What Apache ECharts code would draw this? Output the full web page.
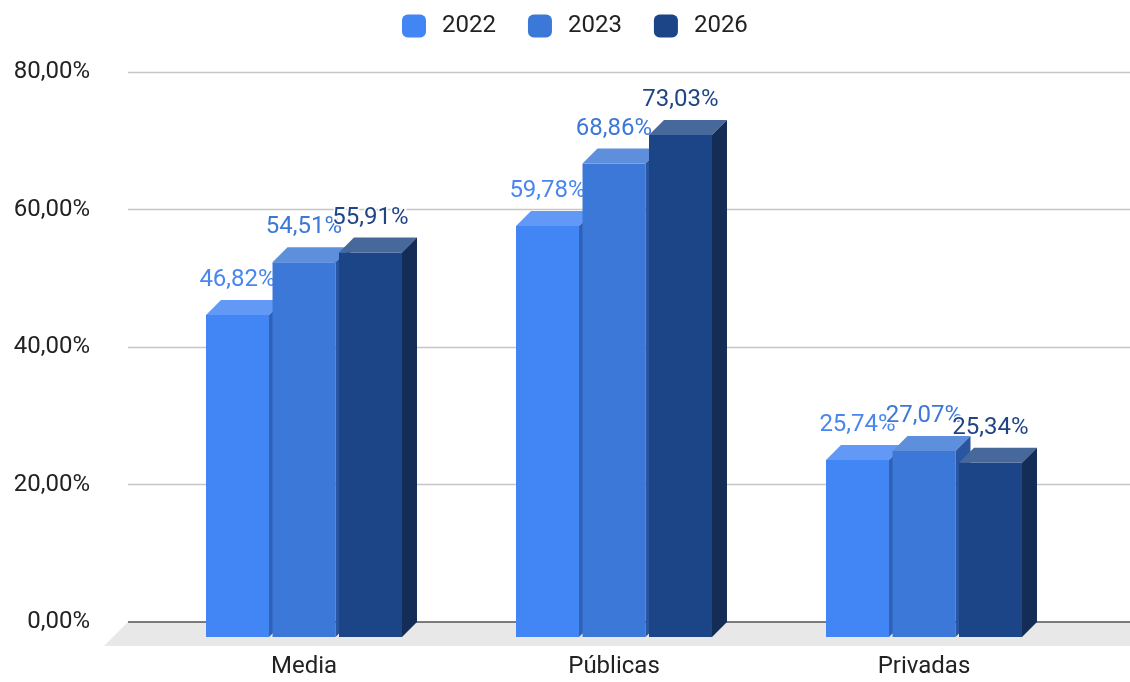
<!DOCTYPE html>
<html>
<head>
<meta charset="utf-8">
<script src="https://cdn.jsdelivr.net/npm/echarts@6/dist/echarts.min.js"></script>
<style>
html,body{margin:0;padding:0;background:#fff;}
#chart{width:1130px;height:682px;}
</style>
</head>
<body>
<div id="chart"></div>
<script>
const categories = ['Media', 'Públicas', 'Privadas'];
const years = ['2022', '2023', '2026'];
const v2022 = [46.82, 59.78, 25.74];
const v2023 = [54.51, 68.86, 27.07];
const v2026 = [55.91, 73.03, 25.34];
const yTicks = [0, 20, 40, 60, 80];

const FONT = 'Roboto';
const DEPTH = 15;
const FLOOR = 24;
const palettes = [
  { front: '#4285f4', top: '#6299f6', side: '#2f61b6', label: '#4a86ee' },
  { front: '#3c78d8', top: '#5d8fdc', side: '#2a55a0', label: '#3c78d8' },
  { front: '#1c4587', top: '#46689b', side: '#132d57', label: '#1f4586' }
];
const fmt = v => v.toFixed(2).replace('.', ',') + '%';

function barRenderer(s) {
  const pal = palettes[s];
  return function (params, api) {
    const ci = api.value(0), v = api.value(1);
    const band = api.size([1, 0])[0];
    const c = api.coord([ci, v]);
    const b = api.coord([ci, 0]);
    const w = band * 0.2032, step = band * 0.2145;
    const cx = c[0] + (s - 1) * step;
    const x0 = cx - w / 2, x1 = cx + w / 2, yT = c[1], yB = b[1];
    return {
      type: 'group',
      children: [
        { type: 'rect', shape: { x: x0, y: yT, width: w, height: yB - yT }, style: { fill: pal.front } },
        { type: 'polygon', shape: { points: [[x0, yT], [x0 + DEPTH, yT - DEPTH], [x1 + DEPTH, yT - DEPTH], [x1, yT]] }, style: { fill: pal.top } },
        { type: 'polygon', shape: { points: [[x1, yT], [x1 + DEPTH, yT - DEPTH], [x1 + DEPTH, yB - DEPTH], [x1, yB]] }, style: { fill: pal.side } },
        { type: 'text', x: cx, y: yT - DEPTH - 20, z2: 10,
          style: { text: fmt(v), fill: pal.label, font: '24px ' + FONT, align: 'center', verticalAlign: 'middle',
                   stroke: '#fff', lineWidth: 3 } }
      ]
    };
  };
}

const seriesVals = [v2022, v2023, v2026];

const option = {
  animation: false,
  backgroundColor: '#fff',
  textStyle: { fontFamily: FONT },
  legend: {
    data: years,
    left: 397, top: 9,
    icon: 'roundRect',
    itemWidth: 24, itemHeight: 23, itemGap: 32,
    textStyle: { fontSize: 24, color: '#222', fontFamily: FONT, padding: [0, 0, 0, 11] }
  },
  grid: [
    { left: 128, right: 0, top: 72, bottom: 60 },
    { left: 149, right: 51, top: 87, bottom: 45 }
  ],
  xAxis: [
    { gridIndex: 0, type: 'value', min: 0, max: 1, show: false },
    { gridIndex: 1, type: 'category', data: categories,
      axisLine: { show: false }, axisTick: { show: false },
      axisLabel: { fontSize: 24, color: '#222', margin: 18, fontFamily: FONT } }
  ],
  yAxis: [
    { gridIndex: 0, type: 'value', min: yTicks[0], max: yTicks[yTicks.length - 1], interval: 20,
      axisLine: { show: false }, axisTick: { show: false },
      axisLabel: { fontSize: 24, color: '#222', margin: 38, fontFamily: FONT, formatter: v => fmt(v) },
      splitLine: { lineStyle: { color: '#c6c6c6', width: 1.3 } } },
    { gridIndex: 1, type: 'value', min: yTicks[0], max: yTicks[yTicks.length - 1], show: false,
      splitLine: { show: false } }
  ],
  series: [
    {
      type: 'custom', name: 'floor', xAxisIndex: 0, yAxisIndex: 0, z: 1, silent: true,
      data: [[0, 0]],
      renderItem: function (params, api) {
        const cs = params.coordSys;
        const y0 = api.coord([0, 0])[1];
        return {
          type: 'group',
          children: [
            { type: 'polygon', shape: { points: [[cs.x, y0], [cs.x + cs.width + FLOOR, y0], [cs.x + cs.width, y0 + FLOOR], [cs.x - FLOOR, y0 + FLOOR]] },
              style: { fill: '#e8e8e8' } },
            { type: 'line', shape: { x1: cs.x, y1: y0, x2: cs.x + cs.width, y2: y0 }, style: { stroke: '#555', lineWidth: 1.6 } }
          ]
        };
      }
    }
  ].concat(years.map((yr, s) => ({
    type: 'custom', name: yr, xAxisIndex: 1, yAxisIndex: 1, z: 2 + s,
    itemStyle: { color: palettes[s].front },
    encode: { x: 0, y: 1 },
    data: seriesVals[s].map((v, i) => [i, v]),
    renderItem: barRenderer(s)
  })))
};

const chart = echarts.init(document.getElementById('chart'), null, { renderer: 'canvas' });
chart.setOption(option);
</script>
</body>
</html>
